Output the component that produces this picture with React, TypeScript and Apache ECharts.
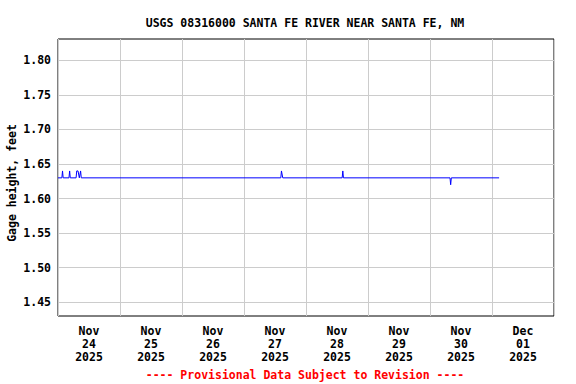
import React, { useEffect, useRef } from "react";
import * as echarts from "echarts";

// Gage height readings (UTC-naive timestamps), feet
const times = [
  "2025-11-24 00:00", "2025-11-24 01:30", "2025-11-24 01:45", "2025-11-24 02:00",
  "2025-11-24 04:15", "2025-11-24 04:30", "2025-11-24 04:45",
  "2025-11-24 07:00", "2025-11-24 07:15", "2025-11-24 07:30", "2025-11-24 07:45",
  "2025-11-24 08:00", "2025-11-24 08:15", "2025-11-24 08:30", "2025-11-24 08:45",
  "2025-11-24 09:00",
  "2025-11-27 14:15", "2025-11-27 14:30", "2025-11-27 14:45", "2025-11-27 15:00",
  "2025-11-28 14:00", "2025-11-28 14:15", "2025-11-28 14:30",
  "2025-11-30 07:45", "2025-11-30 08:00", "2025-11-30 08:15",
  "2025-12-01 02:45",
];
const gageHeight = [
  1.63, 1.63, 1.64, 1.63,
  1.63, 1.64, 1.63,
  1.63, 1.64, 1.64, 1.64,
  1.64, 1.63, 1.63, 1.64,
  1.63,
  1.63, 1.64, 1.64, 1.63,
  1.63, 1.64, 1.63,
  1.63, 1.62, 1.63,
  1.63,
];

const xStart = "2025-11-24 00:00";
const xEnd = "2025-12-02 00:00";
const dayBoundaries = [
  "2025-11-24 00:00", "2025-11-25 00:00", "2025-11-26 00:00", "2025-11-27 00:00",
  "2025-11-28 00:00", "2025-11-29 00:00", "2025-11-30 00:00", "2025-12-01 00:00",
  "2025-12-02 00:00",
];
const labelTimes = [
  "2025-11-24 12:00", "2025-11-25 12:00", "2025-11-26 12:00", "2025-11-27 12:00",
  "2025-11-28 12:00", "2025-11-29 12:00", "2025-11-30 12:00", "2025-12-01 12:00",
];
const tickLabels = [
  "Nov\n24\n2025", "Nov\n25\n2025", "Nov\n26\n2025", "Nov\n27\n2025",
  "Nov\n28\n2025", "Nov\n29\n2025", "Nov\n30\n2025", "Dec\n01\n2025",
];
const yTicks = [1.45, 1.5, 1.55, 1.6, 1.65, 1.7, 1.75, 1.8];
const yMin = 1.43;
const yMax = 1.831;

const titleText = "USGS 08316000 SANTA FE RIVER NEAR SANTA FE, NM";
const footerText = "---- Provisional Data Subject to Revision ----";
const yName = "Gage height, feet";

function parseT(s: string): number {
  const [d, t] = s.split(" ");
  const [y, m, dd] = d.split("-").map(Number);
  const [h, mi] = t.split(":").map(Number);
  return Date.UTC(y, m - 1, dd, h, mi);
}

const FONT = "DejaVu Sans Mono";

export default function App() {
  const ref = useRef<HTMLDivElement>(null);
  useEffect(() => {
    if (!ref.current) return;
    const chart = echarts.init(ref.current, null, { renderer: "svg" });
    const labelMs = labelTimes.map(parseT);
    const data = times.map((t, i) => [parseT(t), gageHeight[i]]);
    chart.setOption({
      animation: false,
      textStyle: { fontFamily: FONT, fontWeight: "bold" },
      title: [
        {
          text: titleText,
          left: 300,
          top: 12,
          textAlign: "center",
          textStyle: { fontFamily: FONT, fontWeight: "bold", fontSize: 11.5, color: "#000" },
        },
        {
          text: footerText,
          left: 300,
          top: 364,
          textAlign: "center",
          textStyle: { fontFamily: FONT, fontWeight: "bold", fontSize: 11.5, color: "#ff0000" },
        },
      ],
      graphic: [
        {
          type: "text",
          x: 12,
          y: 183,
          rotation: Math.PI / 2,
          style: {
            text: yName,
            fill: "#000",
            font: `bold 11.5px "${FONT}"`,
            align: "center",
            verticalAlign: "middle",
          },
        },
      ],
      grid: {
        left: 58,
        right: 22,
        top: 39,
        bottom: 68,
        show: true,
        borderColor: "#000",
        borderWidth: 1,
        backgroundColor: "transparent",
        containLabel: false,
        outerBoundsMode: "none",
      },
      xAxis: {
        type: "value",
        min: parseT(xStart),
        max: parseT(xEnd),
        axisLine: { show: false },
        axisTick: { show: false, customValues: dayBoundaries.map(parseT) },
        splitLine: { show: true, lineStyle: { color: "#cccccc", width: 1 } },
        axisLabel: {
          customValues: labelMs,
          formatter: (v: number) => {
            const i = labelMs.findIndex((m) => Math.abs(m - v) < 1000);
            return i >= 0 ? tickLabels[i] : "";
          },
          fontFamily: FONT,
          fontWeight: "bold",
          fontSize: 11.5,
          lineHeight: 13,
          color: "#000",
          margin: 8,
        },
      },
      yAxis: {
        type: "value",
        min: yMin,
        max: yMax,
        axisLine: { show: false },
        axisTick: { show: false, customValues: yTicks },
        splitLine: { show: true, lineStyle: { color: "#cccccc", width: 1 } },
        axisLabel: {
          customValues: yTicks,
          formatter: (v: number) => v.toFixed(2),
          fontFamily: FONT,
          fontWeight: "bold",
          fontSize: 11.5,
          color: "#000",
          margin: 7,
        },
      },
      series: [
        {
          type: "line",
          data,
          showSymbol: false,
          symbol: "none",
          lineStyle: { color: "#0000ff", width: 1 },
          z: 3,
        },
      ],
    });
    return () => chart.dispose();
  }, []);
  return (
    <div
      ref={ref}
      style={{ position: "fixed", left: 0, top: 0, width: 576, height: 384, background: "#fff" }}
    />
  );
}
